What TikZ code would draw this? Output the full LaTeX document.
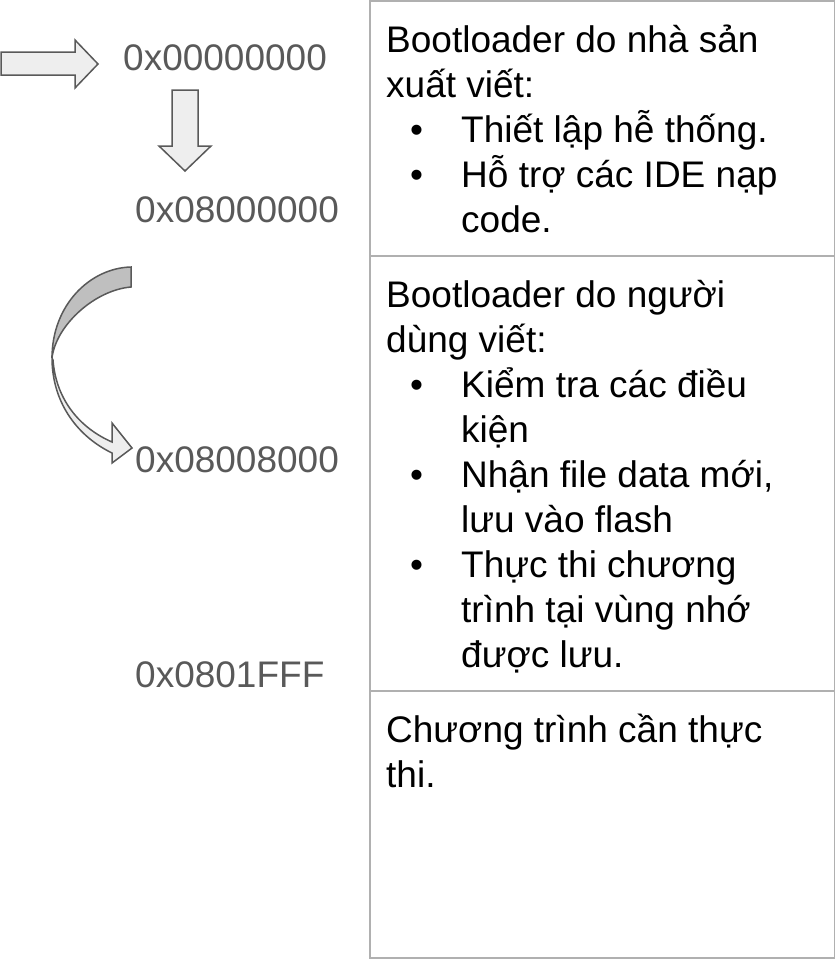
\documentclass[tikz,border=0pt]{standalone}
\usepackage{fontspec}
\setmainfont{Liberation Sans}
\definecolor{addrgray}{RGB}{89,89,89}
\definecolor{linegray}{RGB}{176,176,176}
\definecolor{arrowfill}{RGB}{238,238,238}
\definecolor{arrowdark}{RGB}{191,191,191}
\newcommand{\bul}{\makebox[75pt][l]{\hspace{24pt}\textbullet}}
\newcommand{\ind}{\hspace*{75pt}}

\begin{document}
\begin{tikzpicture}[x=1pt,y=-1pt,
  addr/.style={anchor=base west,inner sep=0pt,text=addrgray,font=\fontsize{37}{45}\selectfont},
  cell/.style={anchor=base west,inner sep=0pt,font=\fontsize{37}{45}\selectfont},
  blockarrow/.style={draw=addrgray,line width=1.5pt,fill=arrowfill,line join=miter}]
  \useasboundingbox (0,0) rectangle (836,961);

  % memory map
  \draw[linegray,line width=1.5pt] (370,1) rectangle (834.5,958);
  \draw[linegray,line width=1.5pt] (370,256) -- (834.5,256);
  \draw[linegray,line width=1.5pt] (370,691) -- (834.5,691);

  \node[cell] (boot1) at (386,52) {\parbox[t]{440pt}{Bootloader do nhà sản\\xuất viết:\\\bul Thiết lập hễ thống.\\\bul Hỗ trợ các IDE nạp\\\ind code.}};
  \node[cell] (boot2) at (386,307) {\parbox[t]{440pt}{Bootloader do người\\dùng viết:\\\bul Kiểm tra các điều\\\ind kiện\\\bul Nhận file data mới,\\\ind lưu vào flash\\\bul Thực thi chương\\\ind trình tại vùng nhớ\\\ind được lưu.}};
  \node[cell] (app) at (386,742) {\parbox[t]{440pt}{Chương trình cần thực\\thi.}};

  % addresses
  \node[addr] (a0) at (123,70) {0x00000000};
  \node[addr] (a1) at (135,222) {0x08000000};
  \node[addr] (a2) at (135,472) {0x08008000};
  \node[addr] (a3) at (135,687) {0x0801FFF};

  % arrows
  \draw[blockarrow] (1,52) -- (75,52) -- (75,40) -- (98,64) -- (75,88) -- (75,75) -- (1,75) -- cycle;
  \draw[blockarrow] (172,90) -- (198,90) -- (198,146) -- (211,146) -- (185,171) -- (159,146) -- (172,146) -- cycle;
  \draw[blockarrow,fill=arrowdark] (131,267) .. controls (90,268) and (52,305) .. (52,358) .. controls (56,325) and (95,290) .. (131,287) -- cycle;
  \draw[blockarrow] (52,358) .. controls (52,400) and (75,435) .. (112,453) -- (112,463) -- (132,448) -- (112,423) -- (112,442) .. controls (80,428) and (56,400) .. (53,360) -- cycle;
\end{tikzpicture}
\end{document}
